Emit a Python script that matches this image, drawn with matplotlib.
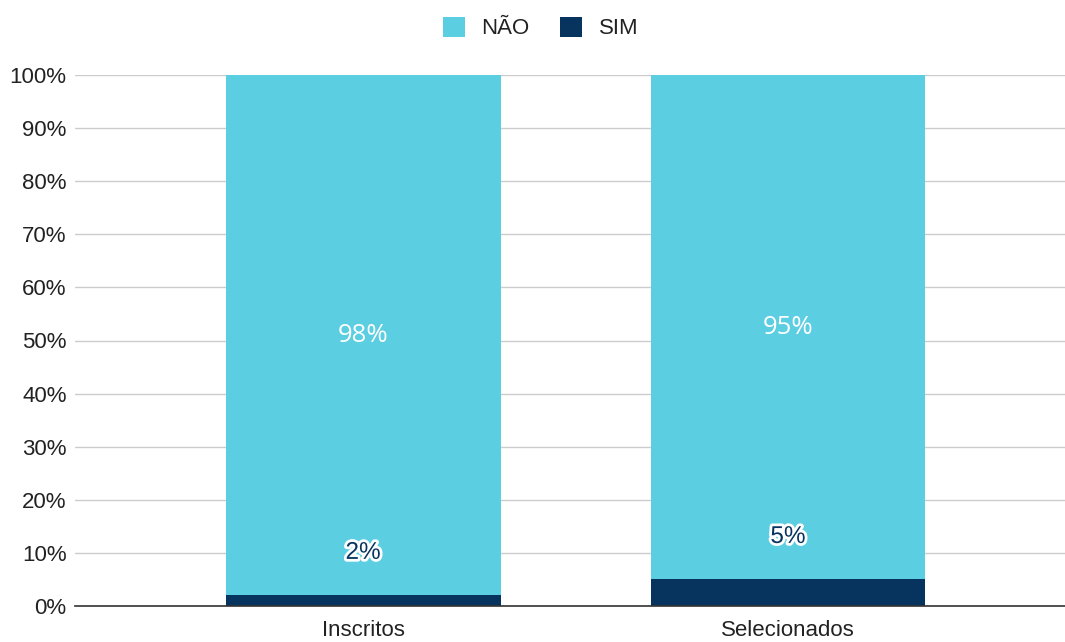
import matplotlib.pyplot as plt
import matplotlib.patheffects as pe
import numpy as np

categories = ['Inscritos', 'Selecionados']
sim = [2, 5]
nao = [98, 95]
sim_labels = ['2%', '5%']
nao_labels = ['98%', '95%']

col_nao = '#5BCEE2'
col_sim = '#07345E'

plt.rcParams['font.family'] = ['Liberation Sans', 'DejaVu Sans']

fig = plt.figure(figsize=(10.65, 6.42), dpi=100)
ax = fig.add_axes([75 / 1065, 36 / 642, 990 / 1065, 531 / 642])

x = np.arange(len(categories))
w = 0.647
ax.bar(x, sim, w, color=col_sim, label='SIM', zorder=3)
ax.bar(x, nao, w, bottom=sim, color=col_nao, label='NÃO', zorder=3)

# data labels
for i in range(len(categories)):
    ax.text(x[i], sim[i] + nao[i] / 2, nao_labels[i], ha='center', va='center',
            color='white', fontsize=18.5, family=['Open Sans', 'DejaVu Sans'], zorder=4)
    ax.text(x[i], sim[i] + 8, sim_labels[i], ha='center', va='center',
            color=col_sim, fontsize=17.5, zorder=4,
            path_effects=[pe.withStroke(linewidth=4, foreground='white')])

ax.set_xlim(-0.678, 1.652)
ax.set_ylim(0, 100)
ax.set_yticks(np.arange(0, 101, 10))
ax.set_yticklabels([f'{v}%' for v in range(0, 101, 10)])
ax.set_xticks(x)
ax.set_xticklabels(categories)
ax.tick_params(length=0, labelsize=16, colors='#222222')
ax.tick_params(axis='y', pad=6)
ax.tick_params(axis='x', pad=10)
ax.grid(axis='y', color='#CCCCCC', linewidth=1, zorder=0)
for s in ['top', 'right', 'left']:
    ax.spines[s].set_visible(False)
ax.spines['bottom'].set_color('#333333')
ax.spines['bottom'].set_linewidth(1.2)
ax.spines['bottom'].set_zorder(5)

h, l = ax.get_legend_handles_labels()
fig.legend(h[::-1], l[::-1], loc='upper center', bbox_to_anchor=(0.5075, 1.005), ncol=2,
           frameon=False, fontsize=16, handlelength=1.0, handleheight=1.0,
           columnspacing=1.35, handletextpad=0.75, labelcolor='#222222')

fig.savefig('out.png', dpi=100)
